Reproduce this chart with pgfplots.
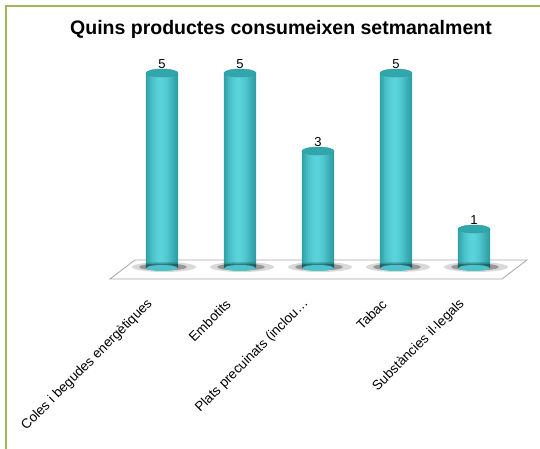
\documentclass[border=0pt]{standalone}
\usepackage{pgfplots}
\usepackage{pgfplotstable}
\pgfplotsset{compat=1.18}
\usepackage{fontspec}
\setmainfont{Liberation Sans}
\definecolor{frame}{HTML}{9BBB59}
\definecolor{cyl}{HTML}{43C3CA}
\definecolor{cyldark}{HTML}{2A9AA0}
\definecolor{cyllight}{HTML}{5AD3DB}
\definecolor{cyltopc}{HTML}{33A6AC}
\pgfplotstableread{
x y
0 5
1 5
2 3
3 5
4 1
}\datatable
\pgfdeclareplotmark{cyltop}{%
  \pgfpathellipse{\pgfpointorigin}{\pgfpoint{16pt}{0pt}}{\pgfpoint{0pt}{4pt}}%
  \pgfusepathqfillstroke}
\pgfdeclareplotmark{cylbot}{%
  \pgfpathellipse{\pgfpointorigin}{\pgfpoint{15.5pt}{0pt}}{\pgfpoint{0pt}{3pt}}%
  \pgfusepathqfill}
\pgfdeclareplotmark{shadow}{%
  \pgfpathellipse{\pgfpoint{2pt}{1pt}}{\pgfpoint{32pt}{0pt}}{\pgfpoint{0pt}{5pt}}%
  \pgfusepathqfill}
\pgfdeclareplotmark{shadowin}{%
  \pgfpathellipse{\pgfpoint{1pt}{1pt}}{\pgfpoint{24pt}{0pt}}{\pgfpoint{0pt}{3.5pt}}%
  \pgfusepathqfill}
\newcommand\strip[2]{\addplot[ybar, bar width=2.4pt, bar shift=#1pt, draw=none, fill=cyllight!#2!cyldark] table[x=x,y=y]{\datatable};}
\begin{document}
\begin{tikzpicture}[x=1pt,y=1pt]
\path[use as bounding box] (0,0) rectangle (540,449);
\draw[frame, line width=2pt] (5.5,0) -- (5.5,443) -- (540,443);
\node[font=\bfseries\fontsize{19.5}{22}\selectfont] at (281,420) {Quins productes consumeixen setmanalment};
\begin{axis}[
  at={(123pt,181pt)}, anchor=south west,
  scale only axis, width=390pt, height=214.5pt,
  xmin=-0.5, xmax=4.5, ymin=0, ymax=5.5,
  clip=false,
  hide y axis,
  axis x line*=bottom,
  x axis line style={draw=none},
  major tick length=0pt,
  /pgf/number format/assume math mode=true,
  xtick={0,1,2,3,4},
  xticklabels={Coles i begudes energètiques, Embotits, Plats precuinats (inclou\dots, Tabac, Substàncies il·legals},
  xticklabel style={font=\fontsize{13.5}{15}\selectfont, xshift=-11pt, yshift=-33pt, rotate=45, anchor=east, inner sep=1pt},
]
\fill[white, draw=gray!70, line width=0.8pt] (axis cs:-0.667,-0.282) -- (axis cs:4.359,-0.282) -- (axis cs:4.679,0.205) -- (axis cs:-0.346,0.205) -- cycle;
\addplot[only marks, mark=shadow, mark options={fill=black, draw=none, opacity=0.15}] table[x=x,y expr=0]{\datatable};
\addplot[only marks, mark=shadowin, mark options={fill=black, draw=none, opacity=0.3}] table[x=x,y expr=0]{\datatable};
\addplot[only marks, mark=cylbot, mark options={fill=cyllight!70!cyldark, draw=none}] table[x=x,y expr=0]{\datatable};
\strip{-15}{15}
\strip{-13}{35}
\strip{-11}{55}
\strip{-9}{70}
\strip{-7}{82}
\strip{-5}{92}
\strip{-3}{98}
\strip{-1}{100}
\strip{1}{97}
\strip{3}{90}
\strip{5}{80}
\strip{7}{68}
\strip{9}{54}
\strip{11}{40}
\strip{13}{25}
\strip{15}{10}
\addplot[only marks, mark=cyltop, mark options={fill=cyltopc, draw=cyldark, line width=0.4pt},
  nodes near coords, every node near coord/.append style={font=\fontsize{13}{15}\selectfont, text=black, anchor=south, yshift=3pt, inner sep=1pt}]
  table[x=x,y=y]{\datatable};
\end{axis}
\end{tikzpicture}
\end{document}
